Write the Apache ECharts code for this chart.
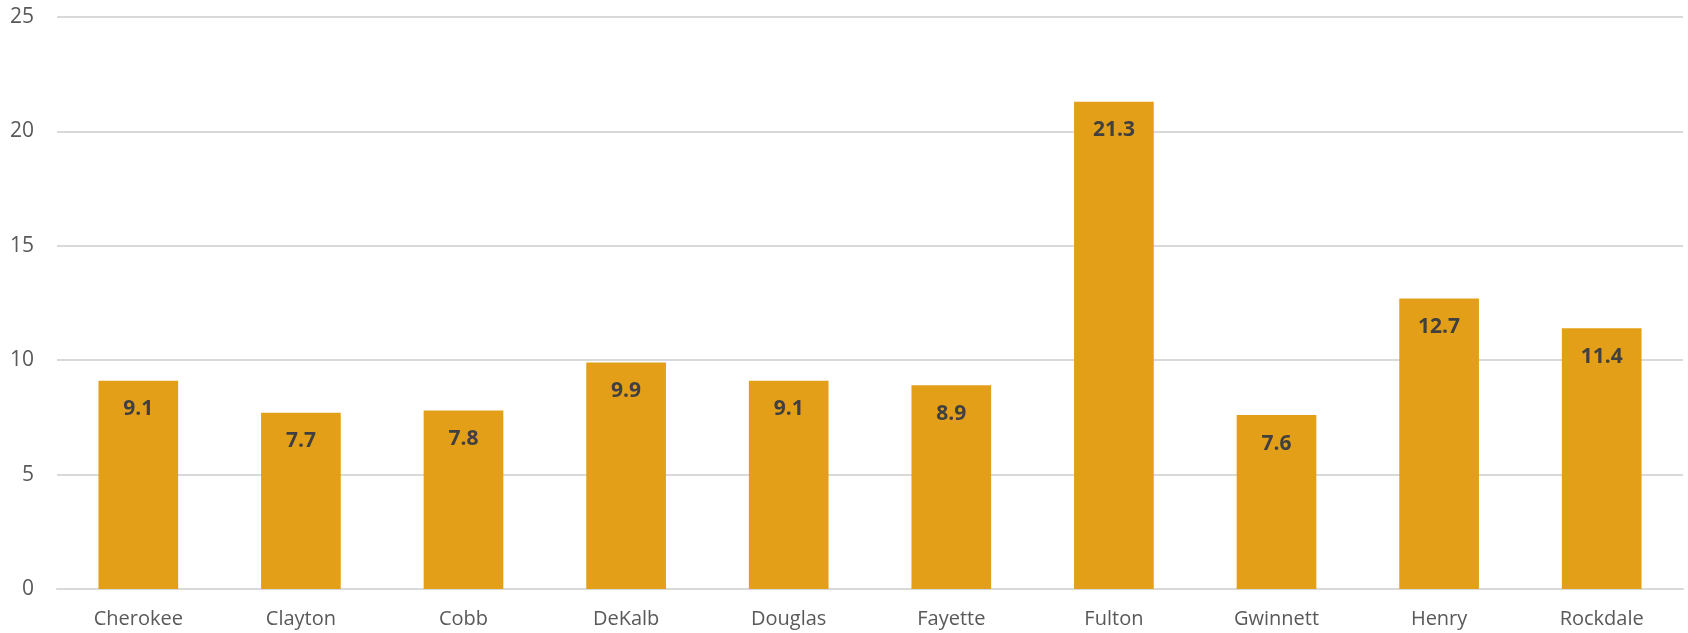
<!DOCTYPE html>
<html><head><meta charset="utf-8">
<script src="https://cdn.jsdelivr.net/npm/echarts@6/dist/echarts.min.js"></script>
<style>html,body{margin:0;padding:0;background:#fff}#c{width:1688px;height:633px}</style>
</head><body><div id="c"></div>
<script>
var categories = ['Cherokee','Clayton','Cobb','DeKalb','Douglas','Fayette','Fulton','Gwinnett','Henry','Rockdale'];
var values = [9.1, 7.7, 7.8, 9.9, 9.1, 8.9, 21.3, 7.6, 12.7, 11.4];
var yTicks = [0, 5, 10, 15, 20, 25];
var chart = echarts.init(document.getElementById('c'));
chart.setOption({
  animation: false,
  grid: {left: 57, right: 5, top: 17, bottom: 44, containLabel: false},
  xAxis: {
    type: 'category', data: categories,
    axisLine: {show: true, lineStyle: {color: '#d9d9d9', width: 2}},
    axisTick: {show: false},
    axisLabel: {color: '#595959', fontSize: 20, fontFamily: 'Open Sans', margin: 20}
  },
  yAxis: {
    type: 'value', min: yTicks[0], max: yTicks[yTicks.length-1], interval: 5,
    axisLine: {show: false}, axisTick: {show: false},
    splitLine: {lineStyle: {color: '#d9d9d9', width: 2}},
    axisLabel: {color: '#595959', fontSize: 21, fontFamily: 'Open Sans', margin: 23}
  },
  series: [{
    type: 'bar', data: values, barWidth: '49%',
    itemStyle: {color: '#E39F18'},
    label: {show: true, position: 'insideTop', distance: 18, color: '#404040', fontWeight: 'bold', fontSize: 21, fontFamily: 'Open Sans'}
  }]
});
</script></body></html>
